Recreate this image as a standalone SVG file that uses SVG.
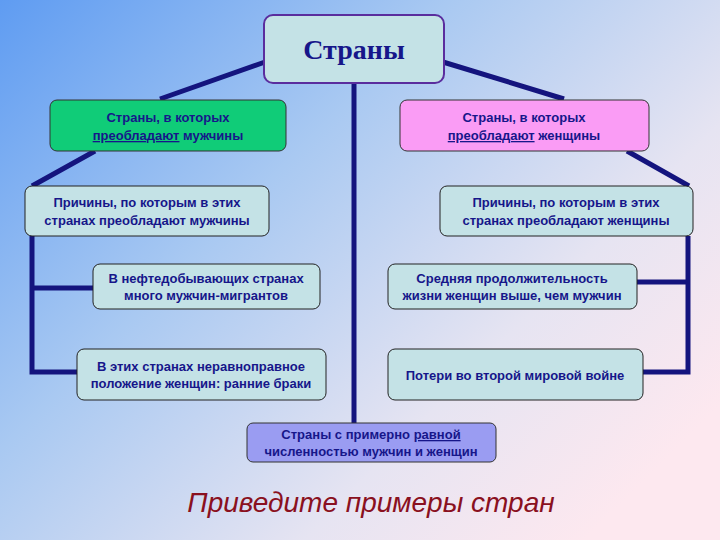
<svg xmlns="http://www.w3.org/2000/svg" width="720" height="540" viewBox="0 0 720 540">
<defs>
<linearGradient id="bg" x1="0" y1="0" x2="1" y2="0.75">
<stop offset="0" stop-color="#5f9cf2"/>
<stop offset="0.4" stop-color="#a9c9f2"/>
<stop offset="0.75" stop-color="#e6e4f2"/>
<stop offset="1" stop-color="#fde8ef"/>
</linearGradient>
<style>
.b{fill:#c4e2e6;stroke:#222;stroke-width:1}
.t{font-family:"Liberation Sans",Arial,sans-serif;font-size:13px;font-weight:bold;fill:#16168a;text-anchor:middle}
.c{stroke:#14147e;stroke-width:5;fill:none}
</style>
</defs>
<rect width="720" height="540" fill="url(#bg)"/>
<g id="connectors">
<path class="c" d="M265,62 L160,99 M443,62 L564,99 M95,151 L32,186 M627,151 L689,186 M354,83 V423 M32,236 V372 H77 M32,288 H93 M688,236 V372 H643 M688,282 H637"/>
</g>
<g id="root"><rect x="264" y="15" width="180" height="68" rx="9" fill="#c4e2e6" stroke="#5a2d9e" stroke-width="2"/>
<text x="354" y="59" font-family="Liberation Serif,serif" font-size="28" font-weight="bold" fill="#16168a" text-anchor="middle">Страны</text></g>
<g id="men"><rect x="50" y="100" width="236" height="51" rx="7" fill="#10cc78" stroke="#333"/>
<text class="t" x="168" y="122">Страны, в которых</text><text class="t" x="168" y="140"><tspan text-decoration="underline">преобладают</tspan> мужчины</text></g>
<g id="women"><rect x="400" y="100" width="249" height="51" rx="7" fill="#fa9cf5" stroke="#333"/>
<text class="t" x="524" y="122">Страны, в которых</text><text class="t" x="524" y="140"><tspan text-decoration="underline">преобладают</tspan> женщины</text></g>
<g id="causeM"><rect class="b" x="25" y="186" width="244" height="50" rx="7"/>
<text class="t" x="147" y="207">Причины, по которым в этих</text><text class="t" x="147" y="225">странах преобладают мужчины</text></g>
<g id="causeW"><rect class="b" x="440" y="186" width="253" height="50" rx="7"/>
<text class="t" x="566" y="207">Причины, по которым в этих</text><text class="t" x="566" y="225">странах преобладают женщины</text></g>
<g id="m1"><rect class="b" x="93" y="264" width="227" height="45" rx="7"/>
<text class="t" x="206" y="283">В нефтедобывающих странах</text><text class="t" x="206" y="300">много мужчин-мигрантов</text></g>
<g id="m2"><rect class="b" x="77" y="349" width="249" height="51" rx="7"/>
<text class="t" x="201" y="371">В этих странах неравноправное</text><text class="t" x="201" y="388">положение женщин: ранние браки</text></g>
<g id="w1"><rect class="b" x="388" y="264" width="249" height="45" rx="7"/>
<text class="t" x="512" y="283">Средняя продолжительность</text><text class="t" x="512" y="300">жизни женщин выше, чем мужчин</text></g>
<g id="w2"><rect class="b" x="388" y="349" width="255" height="51" rx="7"/>
<text class="t" x="515" y="380">Потери во второй мировой войне</text></g>
<g id="equal"><rect x="247" y="423" width="249" height="39" rx="6" fill="#9a9cf2" stroke="#333"/>
<text class="t" x="371" y="439">Страны с примерно <tspan text-decoration="underline">равной</tspan></text><text class="t" x="371" y="456">численностью мужчин и женщин</text></g>
<text x="371" y="512" font-family="Liberation Sans,Arial,sans-serif" font-size="28" font-style="italic" fill="#8a1020" text-anchor="middle">Приведите примеры стран</text>
</svg>
